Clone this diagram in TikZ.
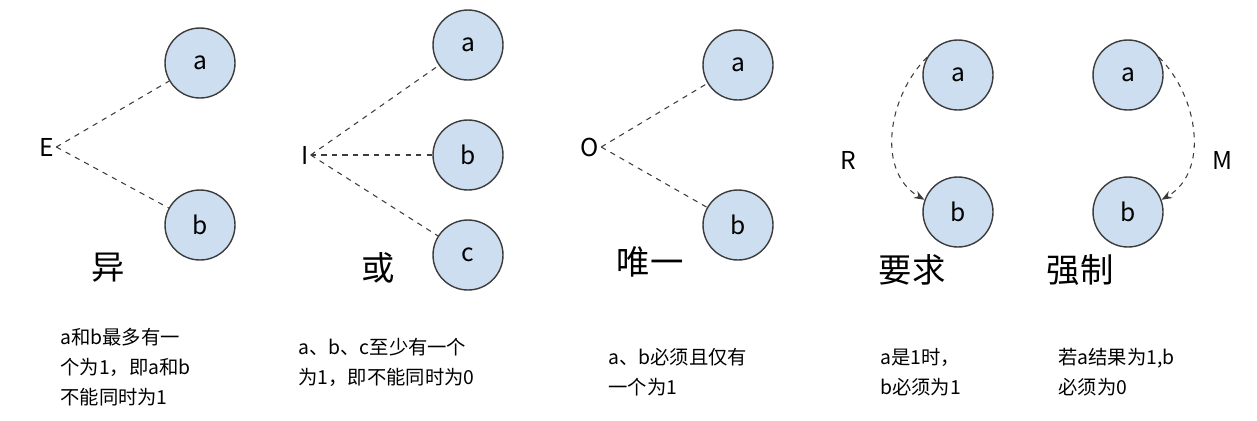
\documentclass[tikz,border=0pt]{standalone}
\usepackage{fontspec}
\setmainfont{Noto Sans CJK SC}
\usetikzlibrary{arrows.meta}
\definecolor{cfill}{RGB}{205,222,240}
\definecolor{cline}{RGB}{60,60,60}
\begin{document}
\begin{tikzpicture}[x=0.02cm,y=-0.02cm,
  cnode/.style={circle,draw=cline,fill=cfill,line width=0.8pt,minimum size=1.4cm,inner sep=0pt,font=\fontsize{14}{14}\selectfont},
  lab/.style={font=\fontsize{14}{14}\selectfont,inner sep=1pt},
  big/.style={font=\fontsize{19}{19}\selectfont},
  desc/.style={anchor=north west,align=left,inner sep=0pt,font=\fontsize{11}{17}\selectfont},
  dl/.style={dashed,draw=cline,line width=0.6pt},
  da/.style={dashed,draw=cline,line width=0.6pt,-{Stealth[length=6pt]}}]
\useasboundingbox (0,0) rectangle (1257,420);
% E
\node[cnode] (ea) at (200,63) {a};
\node[cnode] (eb) at (200,225) {b};
\node[lab] (E) at (47,147) {E};
\draw[dl] (E.east) -- (ea);
\draw[dl] (E.east) -- (eb);
\node[big] (e1) at (108,268) {异};
\node[desc] (e2) at (60,328) {a和b最多有一\\个为1，即a和b\\不能同时为1};
% I
\node[cnode] (ia) at (468,45) {a};
\node[cnode] (ib) at (468,155) {b};
\node[cnode] (ic) at (468,255) {c};
\node[lab] (I) at (305,155) {I};
\draw[dl] (I.east) -- (ia);
\draw[dl] (I.east) -- (ib);
\draw[dl] (I.east) -- (ic);
\node[big] (i1) at (378,268) {或};
\node[desc] (i2) at (298,338) {a、b、c至少有一个\\为1，即不能同时为0};
% O
\node[cnode] (oa) at (738,65) {a};
\node[cnode] (ob) at (738,225) {b};
\node[lab] (O) at (590,147) {O};
\draw[dl] (O.east) -- (oa);
\draw[dl] (O.east) -- (ob);
\node[big] (o1) at (650,262) {唯一};
\node[desc] (o2) at (608,348) {a、b必须且仅有\\一个为1};
% R
\node[cnode] (ra) at (958,75) {a};
\node[cnode] (rb) at (958,212) {b};
\node[lab] (R) at (848,160) {R};
\draw[da] (ra.150) to[out=225,in=150] (rb.160);
\node[big] (r1) at (912,270) {要求};
\node[desc] (r2) at (880,348) {a是1时，\\b必须为1};
% M
\node[cnode] (ma) at (1128,75) {a};
\node[cnode] (mb) at (1128,212) {b};
\node[lab] (M) at (1222,160) {M};
\draw[da] (ma.30) to[out=-45,in=30] (mb.20);
\node[big] (m1) at (1080,270) {强制};
\node[desc] (m2) at (1058,348) {若a结果为1,b\\必须为0};
\end{tikzpicture}
\end{document}
